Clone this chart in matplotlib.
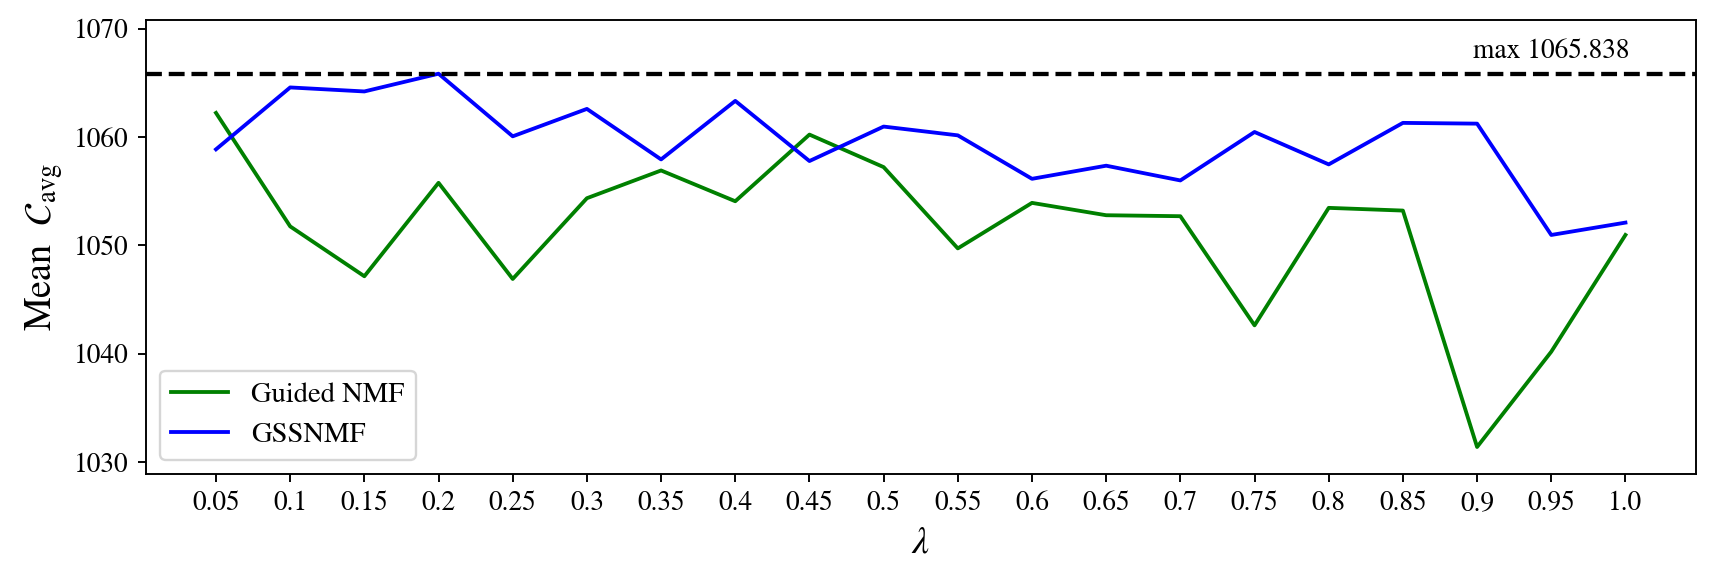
import matplotlib
matplotlib.use("Agg")
import matplotlib.pyplot as plt
from matplotlib.ticker import MultipleLocator

plt.rcParams['font.family'] = ['STIXGeneral', 'DejaVu Serif']
plt.rcParams['mathtext.fontset'] = 'stix'

# lambda values and mean C_avg per method
lam = [0.05, 0.1, 0.15, 0.2, 0.25, 0.3, 0.35, 0.4, 0.45, 0.5,
       0.55, 0.6, 0.65, 0.7, 0.75, 0.8, 0.85, 0.9, 0.95, 1.0]
lam_labels = [str(v) for v in lam]

guided_nmf = [1062.22, 1051.75, 1047.15, 1055.77, 1046.9, 1054.35, 1056.91, 1054.07, 1060.22, 1057.22,
              1049.72, 1053.92, 1052.78, 1052.69, 1042.62, 1053.46, 1053.21, 1031.4, 1040.19, 1050.96]
gssnmf = [1058.86, 1064.57, 1064.2, 1065.838, 1060.06, 1062.59, 1057.93, 1063.33, 1057.78, 1060.96,
          1060.15, 1056.14, 1057.35, 1055.99, 1060.46, 1057.47, 1061.3, 1061.23, 1050.96, 1052.1]

best = max(max(guided_nmf), max(gssnmf))
low = min(min(guided_nmf), min(gssnmf))

fig, ax = plt.subplots(figsize=(10, 3.415), dpi=171.6)
fig.subplots_adjust(left=0.0848, right=0.9883, top=0.9667, bottom=0.191)

ax.plot(lam, guided_nmf, color='green', lw=1.6, label='Guided NMF')
ax.plot(lam, gssnmf, color='blue', lw=1.6, label='GSSNMF')
ax.axhline(best, color='black', ls='--', lw=1.8)
ax.text(0.95, best + 0.9, f'max {best:.3f}', ha='center', va='bottom', fontsize=11.5)

ax.set_ylim(low - 2.5, best + 5)
ax.yaxis.set_major_locator(MultipleLocator(10))
ax.set_xticks(lam)
ax.set_xticklabels(lam_labels)
ax.tick_params(labelsize=11.5)
ax.set_xlabel(r'$\lambda$', fontsize=16)
ax.set_ylabel(r'Mean  $\mathcal{C}_{\rm avg}$', fontsize=16)
ax.legend(loc='lower left', fontsize=12)

fig.savefig('out.png', dpi=171.6)
